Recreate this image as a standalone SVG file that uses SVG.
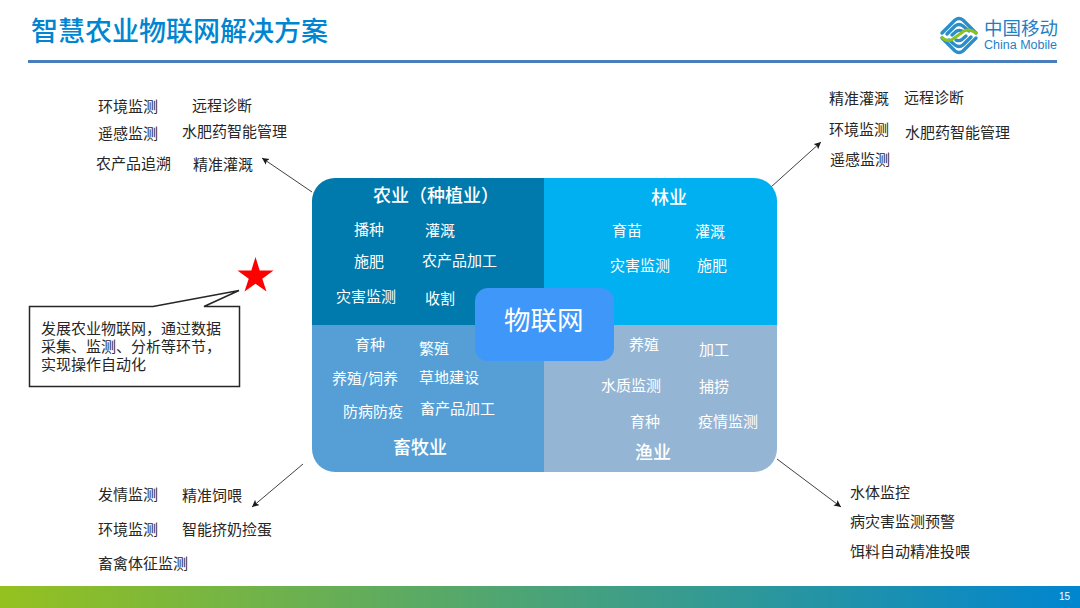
<svg xmlns="http://www.w3.org/2000/svg" width="1080" height="608" viewBox="0 0 1080 608">
<style>
text{font-family:"Noto Sans CJK SC","Liberation Sans",sans-serif}
.k{font-size:15px;fill:#262626}
.w{font-size:15px;fill:#fff}
.h{font-size:18px;fill:#fff;font-weight:500}
.c{fill:none;stroke:#404040;stroke-width:1;marker-end:url(#a)}
.b{fill:none;stroke:#2b8ec9;stroke-width:3.400;stroke-linecap:round}
</style>
<defs>
<linearGradient id="g"><stop offset="0" stop-color="#95c11f"/><stop offset="1" stop-color="#0085d0"/></linearGradient>
<marker id="a" markerWidth="9" markerHeight="8" refX="7" refY="3.500" orient="auto" markerUnits="userSpaceOnUse"><path d="M0 0L7 3.500L0 7L1.500 3.500z" fill="#1a1a1a"/></marker>
<clipPath id="p"><rect x="312" y="178" width="465" height="294" rx="23"/></clipPath>
</defs>
<rect width="1080" height="608" fill="#fff"/>
<g id="header">
<text x="31" y="41" font-size="27" fill="#0085d0" font-weight="500">智慧农业物联网解决方案</text>
<rect x="28" y="60" width="1029" height="3" fill="#4a7ebb"/>
</g>
<g id="logo">
<path class="b" d="M942 33L955 20Q959 17 963 20L976 33"/>
<path class="b" d="M947 34L955 26Q959 23 963 26L969 31"/>
<path class="b" d="M952 35L956 31.500Q959 29.500 962 31"/>
<path class="b" d="M976 38L963 51Q959 54 955 51L942 38"/>
<path class="b" d="M971 37L963 45Q959 48 955 45L949 40"/>
<path class="b" d="M966 36L962 39.500Q959 41.500 956 40"/>
<path d="M941 36.500Q947 43 953 39L964 31Q970 28 977 34" fill="none" stroke="#8cc220" stroke-width="3"/>
<text x="984" y="35" font-size="18.500" fill="#1f7fc4">中国移动</text>
<text x="984" y="49" font-size="12.500" fill="#1f7fc4" style="font-family:'Liberation Sans',sans-serif">China Mobile</text>
</g>
<g id="footer">
<rect y="586" width="1080" height="22" fill="url(#g)"/>
<text x="1059" y="600" font-size="10" fill="#fff" style="font-family:'Liberation Sans',sans-serif">15</text>
</g>
<g id="connectors">
<line class="c" x1="312" y1="192" x2="262" y2="158"/>
<line class="c" x1="771" y1="187" x2="821" y2="142"/>
<line class="c" x1="303" y1="464" x2="252" y2="507"/>
<line class="c" x1="777" y1="459" x2="841" y2="507"/>
</g>
<g id="matrix">
<g clip-path="url(#p)">
<rect x="312" y="178" width="232" height="147" fill="#007aad"/>
<rect x="544" y="178" width="233" height="147" fill="#00b0f0"/>
<rect x="312" y="325" width="232" height="147" fill="#559fd6"/>
<rect x="544" y="325" width="233" height="147" fill="#95b5d4"/>
</g>
</g>
<g id="agri">
<text class="h" x="373" y="202">农业（种植业）</text>
<text class="w" x="354" y="235">播种</text><text class="w" x="425" y="236">灌溉</text>
<text class="w" x="354" y="267">施肥</text><text class="w" x="422" y="266">农产品加工</text>
<text class="w" x="336" y="302">灾害监测</text><text class="w" x="425" y="304">收割</text>
</g>
<g id="forest">
<text class="h" x="651" y="204">林业</text>
<text class="w" x="612" y="236">育苗</text><text class="w" x="695" y="237">灌溉</text>
<text class="w" x="610" y="271">灾害监测</text><text class="w" x="697" y="271">施肥</text>
</g>
<g id="livestock">
<text class="w" x="355" y="350">育种</text><text class="w" x="419" y="354">繁殖</text>
<text class="w" x="332" y="384">养殖/饲养</text><text class="w" x="419" y="383">草地建设</text>
<text class="w" x="343" y="417">防病防疫</text><text class="w" x="420" y="414">畜产品加工</text>
<text class="h" x="393" y="454">畜牧业</text>
</g>
<g id="fishery">
<text class="w" x="629" y="350">养殖</text><text class="w" x="699" y="355">加工</text>
<text class="w" x="601" y="391">水质监测</text><text class="w" x="699" y="392">捕捞</text>
<text class="w" x="630" y="427">育种</text><text class="w" x="698" y="427">疫情监测</text>
<text class="h" x="635" y="459">渔业</text>
</g>
<g id="iot">
<rect x="475" y="288" width="139" height="73" rx="13" fill="#3f97fa"/>
<text x="504" y="330" font-size="26.500" fill="#fff">物联网</text>
</g>
<g id="labels-tl">
<text class="k" x="98" y="112">环境监测</text><text class="k" x="192" y="111">远程诊断</text>
<text class="k" x="98" y="139">遥感监测</text><text class="k" x="182" y="137">水肥药智能管理</text>
<text class="k" x="96" y="169">农产品追溯</text><text class="k" x="193" y="170">精准灌溉</text>
</g>
<g id="labels-tr">
<text class="k" x="829" y="104">精准灌溉</text><text class="k" x="904" y="103">远程诊断</text>
<text class="k" x="829" y="135">环境监测</text><text class="k" x="905" y="138">水肥药智能管理</text>
<text class="k" x="830" y="165">遥感监测</text>
</g>
<g id="labels-bl">
<text class="k" x="98" y="500">发情监测</text><text class="k" x="182" y="501">精准饲喂</text>
<text class="k" x="98" y="535">环境监测</text><text class="k" x="182" y="535">智能挤奶捡蛋</text>
<text class="k" x="98" y="569">畜禽体征监测</text>
</g>
<g id="labels-br">
<text class="k" x="850" y="498">水体监控</text>
<text class="k" x="850" y="527">病灾害监测预警</text>
<text class="k" x="850" y="557">饵料自动精准投喂</text>
</g>
<g id="callout">
<path d="M29.500 306.500H153L239 290.500L204 306.500H239.500V386.500H29.500Z" fill="#fff" stroke="#262626" stroke-width="1.500"/>
<text font-size="15" fill="#262626"><tspan x="41" y="334">发展农业物联网，通过数据</tspan><tspan x="41" y="352">采集、监测、分析等环节，</tspan><tspan x="41" y="370">实现操作自动化</tspan></text>
</g>
<g id="star">
<path d="M255.500 257L259.700 270.500H273.500L262.300 278.800L266.500 291.500L255.500 283.700L244.500 291.500L248.700 278.800L237.500 270.500H251.300Z" fill="#ff0000"/>
</g>
</svg>
